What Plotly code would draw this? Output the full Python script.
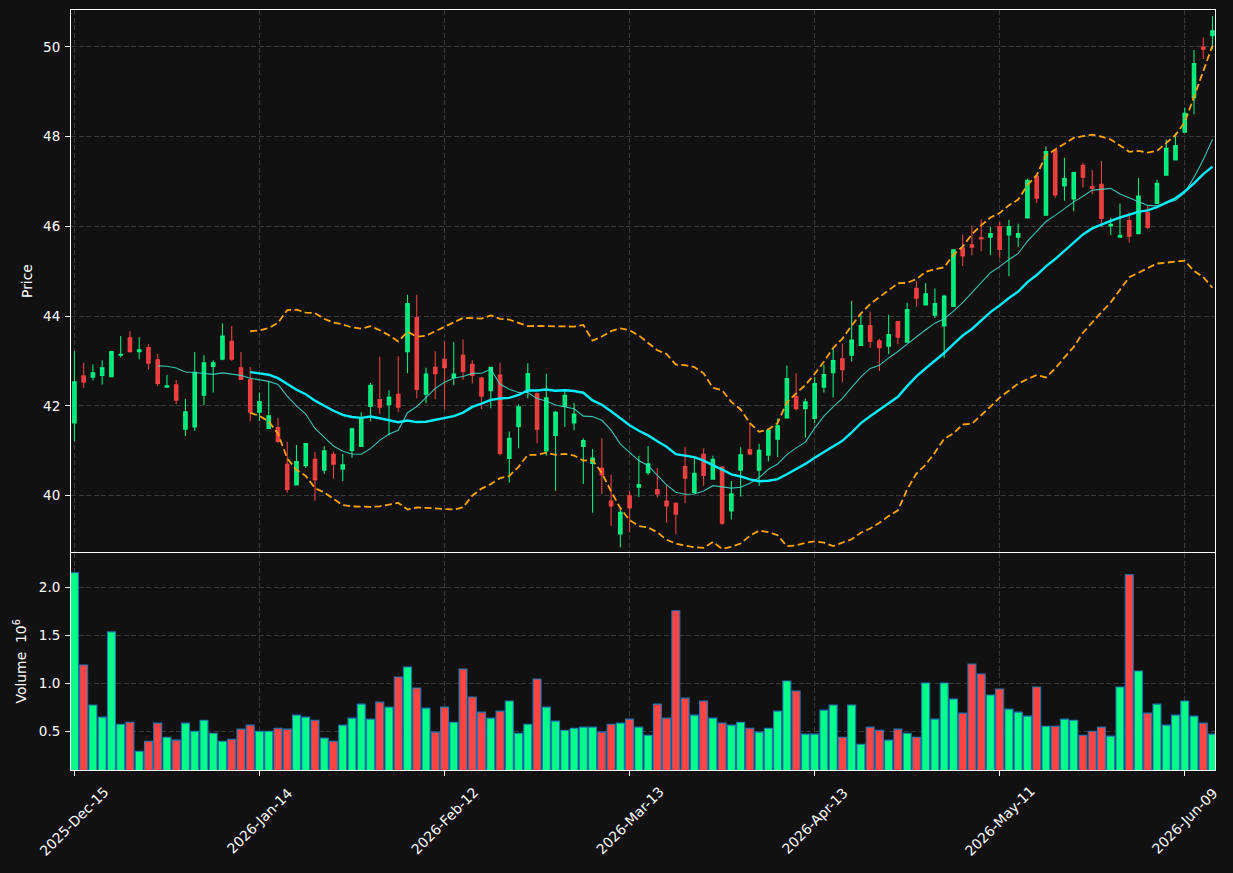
import pandas as pd
import plotly.graph_objects as go

# ---- data ----
tick_labels = ["2025-Dec-15", "2026-Jan-14", "2026-Feb-12", "2026-Mar-13",
               "2026-Apr-13", "2026-May-11", "2026-Jun-09"]

opens = [41.62, 42.67, 42.64, 42.68, 42.65, 43.13, 43.52, 43.21, 43.30, 43.03,
         42.42, 42.47, 41.48, 41.53, 42.24, 42.88, 43.04, 43.44, 42.85, 42.59,
         41.86, 41.50, 41.52, 40.70, 40.24, 40.67, 40.81, 40.57, 40.92, 40.59,
         41.01, 41.10, 41.99, 42.14, 42.03, 42.26, 43.21, 43.97, 42.26, 42.86,
         43.04, 42.63, 43.13, 42.93, 42.62, 42.34, 42.69, 40.83, 41.54, 42.35,
         42.27, 41.00, 41.34, 41.99, 41.62, 41.10, 40.72, 40.61, 39.88, 39.15,
         40.00, 40.19, 40.51, 40.14, 39.88, 39.83, 40.65, 40.07, 40.92, 40.37,
         40.64, 39.66, 40.57, 41.03, 40.57, 40.90, 41.26, 41.73, 42.21, 41.94,
         41.72, 42.42, 42.74, 43.05, 43.13, 43.35, 43.79, 43.45, 43.33, 43.88,
         43.42, 44.62, 44.25, 44.02, 43.78, 44.22, 45.52, 45.59, 45.75, 45.76,
         46.00, 45.81, 45.76, 46.19, 47.12, 46.25, 47.69, 46.90, 46.61, 47.36,
         46.89, 46.94, 46.01, 45.76, 46.13, 45.84, 46.31, 46.51, 47.14, 47.48,
         48.10, 48.87, 50.00, 50.25]
highs = [43.22, 42.96, 42.93, 43.02, 43.23, 43.56, 43.67, 43.53, 43.38, 43.16,
         42.69, 42.58, 42.16, 43.20, 43.13, 43.02, 43.84, 43.78, 43.20, 42.87,
         42.30, 42.55, 41.73, 41.20, 41.13, 41.18, 40.98, 41.10, 40.98, 40.93,
         41.52, 41.86, 42.51, 43.10, 42.35, 43.11, 44.48, 44.48, 42.85, 43.22,
         43.43, 43.42, 43.48, 43.02, 42.65, 42.87, 42.97, 41.43, 42.04, 42.95,
         42.30, 42.72, 41.89, 42.37, 42.07, 41.28, 41.04, 41.28, 40.47, 39.73,
         40.10, 40.89, 41.11, 40.62, 40.24, 39.85, 41.09, 40.84, 41.05, 40.89,
         40.66, 40.33, 41.08, 41.63, 41.16, 41.49, 41.72, 42.90, 42.73, 42.16,
         42.64, 42.92, 43.29, 43.39, 44.34, 44.04, 44.10, 43.50, 44.03, 43.89,
         44.30, 44.78, 44.74, 44.62, 44.48, 45.49, 45.82, 46.02, 46.16, 45.99,
         46.10, 46.15, 46.06, 47.06, 47.15, 47.78, 47.72, 47.53, 47.22, 47.42,
         47.26, 47.46, 46.19, 46.51, 46.31, 47.08, 46.46, 47.04, 47.94, 48.08,
         48.65, 49.93, 50.21, 50.69]
lows = [41.22, 42.40, 42.57, 42.48, 42.64, 43.08, 43.19, 43.04, 42.82, 42.44,
        42.41, 42.04, 41.33, 41.44, 42.02, 42.30, 43.02, 43.01, 42.59, 41.66,
        41.66, 41.49, 41.18, 40.07, 40.23, 40.62, 39.89, 40.49, 40.38, 40.33,
        40.84, 41.10, 41.66, 41.82, 41.34, 41.86, 42.73, 42.17, 42.06, 42.15,
        41.92, 42.46, 42.58, 42.50, 41.93, 41.95, 40.90, 40.29, 41.06, 42.17,
        41.17, 40.89, 40.11, 41.53, 41.46, 40.26, 39.62, 40.04, 39.33, 38.85,
        39.19, 39.97, 40.46, 39.96, 39.40, 39.14, 39.84, 40.04, 40.22, 40.36,
        39.35, 39.47, 39.98, 40.90, 40.22, 40.76, 40.87, 41.72, 41.90, 41.29,
        41.62, 42.30, 42.19, 42.53, 42.99, 43.34, 43.29, 42.78, 43.15, 43.37,
        43.41, 44.21, 44.24, 43.96, 43.07, 44.21, 45.12, 45.36, 45.45, 45.36,
        45.30, 44.89, 45.55, 46.18, 46.53, 46.25, 46.64, 46.57, 46.34, 46.87,
        46.72, 45.98, 45.81, 45.76, 45.64, 45.83, 45.94, 46.51, 47.14, 47.47,
        48.09, 48.50, 49.73, 49.95]
closes = [42.54, 42.53, 42.74, 42.85, 43.21, 43.15, 43.21, 43.25, 42.95, 42.50,
          42.45, 42.13, 41.87, 42.75, 42.96, 42.96, 43.56, 43.04, 42.59, 41.86,
          42.10, 41.78, 41.21, 40.14, 40.76, 41.16, 40.35, 41.00, 40.70, 40.69,
          41.49, 41.74, 42.46, 41.97, 42.20, 41.97, 44.28, 42.37, 42.71, 42.72,
          42.85, 42.71, 42.77, 42.68, 42.22, 42.86, 40.94, 41.28, 41.98, 42.72,
          41.48, 42.18, 41.86, 42.24, 41.82, 41.23, 40.84, 40.46, 39.77, 39.63,
          39.73, 40.25, 40.71, 40.04, 39.77, 39.59, 40.39, 40.50, 40.45, 40.81,
          39.39, 40.04, 40.91, 40.93, 41.01, 41.46, 41.56, 42.61, 41.94, 42.09,
          42.50, 42.70, 43.01, 42.81, 43.47, 43.79, 43.44, 43.30, 43.59, 43.53,
          44.15, 44.40, 44.50, 44.28, 44.45, 45.48, 45.34, 45.54, 45.72, 45.84,
          45.49, 46.00, 45.84, 47.03, 46.63, 47.67, 46.70, 47.07, 47.20, 47.10,
          46.85, 46.18, 46.05, 45.80, 45.78, 46.68, 45.98, 46.96, 47.74, 47.80,
          48.52, 49.63, 49.95, 50.36]
volumes_m = [2.157, 1.192, 0.773, 0.647, 1.538, 0.573, 0.594, 0.290, 0.395, 0.584,
             0.437, 0.406, 0.584, 0.500, 0.615, 0.479, 0.395, 0.416, 0.521, 0.563,
             0.500, 0.500, 0.531, 0.521, 0.668, 0.647, 0.615, 0.427, 0.395, 0.563,
             0.636, 0.783, 0.626, 0.804, 0.752, 1.066, 1.171, 0.951, 0.741, 0.490,
             0.752, 0.594, 1.150, 0.857, 0.699, 0.636, 0.710, 0.815, 0.479, 0.573,
             1.045, 0.752, 0.605, 0.510, 0.531, 0.542, 0.542, 0.490, 0.573, 0.584,
             0.626, 0.542, 0.458, 0.783, 0.636, 1.759, 0.846, 0.668, 0.815, 0.636,
             0.584, 0.563, 0.594, 0.531, 0.490, 0.531, 0.710, 1.024, 0.920, 0.469,
             0.469, 0.720, 0.773, 0.437, 0.773, 0.364, 0.542, 0.510, 0.406, 0.521,
             0.479, 0.437, 1.003, 0.626, 1.003, 0.836, 0.689, 1.203, 1.098, 0.878,
             0.941, 0.731, 0.699, 0.657, 0.962, 0.552, 0.552, 0.626, 0.615, 0.458,
             0.500, 0.542, 0.448, 0.962, 2.136, 1.129, 0.689, 0.783, 0.563, 0.668,
             0.815, 0.657, 0.584, 0.469]

# ---- derived ----
n = len(closes)
idx = list(range(n))
tick_pos = list(range(0, n, 20))[:len(tick_labels)]
cs = pd.Series(closes)
ma10 = cs.rolling(10).mean()
ma20 = cs.rolling(20).mean()
sd20 = cs.rolling(20).std()
bb_up = ma20 + 2 * sd20
bb_lo = ma20 - 2 * sd20

UP = "#00ff88"
DOWN = "#ff4444"
BG = "#111111"
GRID = "#3a3a3a"
FONT = "DejaVu Sans"

vol_colors = [UP if c >= o else DOWN for o, c in zip(opens, closes)]

fig = go.Figure()
fig.add_trace(go.Candlestick(
    x=idx, open=opens, high=highs, low=lows, close=closes,
    xaxis="x", yaxis="y",
    increasing=dict(line=dict(color="rgba(0,255,136,0.9)", width=1.1),
                    fillcolor="rgba(0,255,136,0.9)"),
    decreasing=dict(line=dict(color="rgba(255,68,68,0.9)", width=1.1),
                    fillcolor="rgba(255,68,68,0.9)"),
    whiskerwidth=0, showlegend=False, name="OHLC"))
fig.add_trace(go.Scatter(x=idx, y=ma10, mode="lines", xaxis="x", yaxis="y",
                         line=dict(color="rgba(64,224,208,0.85)", width=1.1),
                         showlegend=False, name="MA10"))
fig.add_trace(go.Scatter(x=idx, y=ma20, mode="lines", xaxis="x", yaxis="y",
                         line=dict(color="#00eeff", width=2.4),
                         showlegend=False, name="MA20"))
for s, nm in ((bb_up, "BB upper"), (bb_lo, "BB lower")):
    fig.add_trace(go.Scatter(x=idx, y=s, mode="lines", xaxis="x", yaxis="y",
                             line=dict(color="#ffa500", width=1.8, dash="7px,3.5px"),
                             showlegend=False, name=nm))
fig.add_trace(go.Bar(x=idx, y=volumes_m, xaxis="x2", yaxis="y2", width=0.86,
                     marker=dict(color=vol_colors,
                                 line=dict(color="#1f77b4", width=1.1)),
                     showlegend=False, name="Volume"))

xr = [-0.37, 123.27]
common_axis = dict(showline=True, mirror=True, linecolor="white", linewidth=1,
                   showgrid=True, gridcolor=GRID, gridwidth=1, griddash="5px,2.5px",
                   zeroline=False, tickfont=dict(family=FONT, size=13.5, color="white"))

fig.update_layout(
    width=1233, height=873,
    paper_bgcolor=BG, plot_bgcolor=BG,
    margin=dict(l=71, r=18, t=10, b=103),
    font=dict(family=FONT, color="white"),
    boxgap=0.46,
    showlegend=False,
    xaxis=dict(domain=[0, 1], anchor="y", range=xr, tickmode="array",
               tickvals=tick_pos, showticklabels=False, ticks="",
               rangeslider=dict(visible=False), matches="x2", **common_axis),
    yaxis=dict(domain=[0.2868, 1], anchor="x", range=[38.745, 50.823],
               tickmode="array", tickvals=[40, 42, 44, 46, 48, 50],
               ticks="outside", ticklen=5, tickcolor="white", tickwidth=1,
               ticklabelstandoff=2, **common_axis),
    xaxis2=dict(domain=[0, 1], anchor="y2", range=xr, tickmode="array",
                tickvals=tick_pos, showticklabels=False, ticks="outside",
                ticklen=5, tickcolor="white", tickwidth=1, **common_axis),
    yaxis2=dict(domain=[0, 0.2855], anchor="x2", range=[0.094, 2.363],
                tickmode="array", tickvals=[0.5, 1.0, 1.5, 2.0],
                ticktext=["0.5", "1.0", "1.5", "2.0"],
                ticks="outside", ticklen=5, tickcolor="white", tickwidth=1,
                ticklabelstandoff=2, **common_axis),
)

annotations = []
for p, lab in zip(tick_pos, tick_labels):
    annotations.append(dict(x=p, xref="x2", y=-0.0671, yref="paper",
                            text=lab, textangle=-45, showarrow=False,
                            xanchor="center", yanchor="middle",
                            font=dict(family=FONT, size=13.9, color="white")))
annotations.append(dict(x=-0.0385, xref="paper", y=(0.2868 + 1) / 2, yref="paper",
                        text="Price", textangle=-90, showarrow=False,
                        xanchor="center", yanchor="middle",
                        font=dict(family=FONT, size=13.9, color="white")))
annotations.append(dict(x=-0.0446, xref="paper", y=0.2855 / 2, yref="paper",
                        text="Volume  10<sup>6</sup>", textangle=-90, showarrow=False,
                        xanchor="center", yanchor="middle",
                        font=dict(family=FONT, size=13.9, color="white")))
fig.update_layout(annotations=annotations)

fig.write_html("out.html")
